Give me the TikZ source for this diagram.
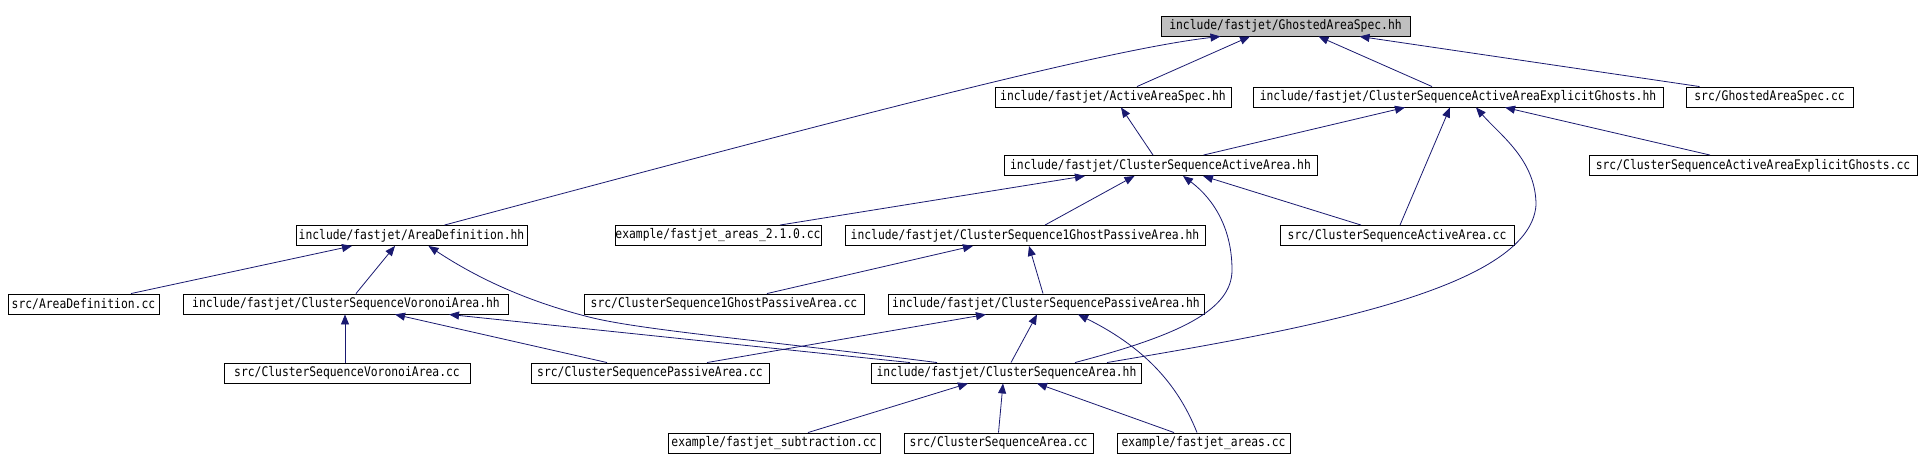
\documentclass[tikz,border=0pt]{standalone}
\usepackage{fontspec}
\usetikzlibrary{arrows.meta}
\newfontfamily\dfont[FakeStretch=0.86]{DejaVu Sans Mono}
\definecolor{edgeblue}{HTML}{191970}
\definecolor{rootgray}{HTML}{BFBFBF}
\begin{document}
\begin{tikzpicture}[x=1pt,y=-1pt,
  fbox/.style={draw=black, line width=0.9pt, minimum height=20pt, inner sep=0pt, fill=white,
    font={\dfont\fontsize{13.2}{14}\selectfont}},
  dep/.style={draw=edgeblue, line width=0.8pt, -{Triangle[length=10pt,width=8pt]}}]
\useasboundingbox (0,0) rectangle (1921,470);
% row 1
\node[fbox, fill=rootgray, minimum width=249pt] (gas) at (1285.5,26) {include/fastjet/GhostedAreaSpec.hh};
% row 2
\node[fbox, minimum width=236pt] (aas) at (1113,97) {include/fastjet/ActiveAreaSpec.hh};
\node[fbox, minimum width=410pt] (eg) at (1458,97) {include/fastjet/ClusterSequenceActiveAreaExplicitGhosts.hh};
\node[fbox, minimum width=167pt] (gascc) at (1769.5,97) {src/GhostedAreaSpec.cc};
% row 3
\node[fbox, minimum width=313pt] (csaa) at (1160.5,165.5) {include/fastjet/ClusterSequenceActiveArea.hh};
\node[fbox, minimum width=328pt] (egcc) at (1753,165.5) {src/ClusterSequenceActiveAreaExplicitGhosts.cc};
% row 4
\node[fbox, minimum width=231pt] (adh) at (411.5,235.5) {include/fastjet/AreaDefinition.hh};
\node[fbox, minimum width=206pt] (ex210) at (718,235.5) {example/fastjet\_areas\_2.1.0.cc};
\node[fbox, minimum width=360pt] (og) at (1025,235.5) {include/fastjet/ClusterSequence1GhostPassiveArea.hh};
\node[fbox, minimum width=234pt] (csaacc) at (1397,235.5) {src/ClusterSequenceActiveArea.cc};
% row 5
\node[fbox, minimum width=151pt] (adcc) at (83.5,304) {src/AreaDefinition.cc};
\node[fbox, minimum width=325pt] (vor) at (346,304) {include/fastjet/ClusterSequenceVoronoiArea.hh};
\node[fbox, minimum width=280pt] (ogcc) at (724,304) {src/ClusterSequence1GhostPassiveArea.cc};
\node[fbox, minimum width=316pt] (pa) at (1046,304) {include/fastjet/ClusterSequencePassiveArea.hh};
% row 6
\node[fbox, minimum width=246pt] (vorcc) at (347,373) {src/ClusterSequenceVoronoiArea.cc};
\node[fbox, minimum width=238pt] (pacc) at (650,373) {src/ClusterSequencePassiveArea.cc};
\node[fbox, minimum width=270pt] (csa) at (1006.5,373) {include/fastjet/ClusterSequenceArea.hh};
% row 7
\node[fbox, minimum width=212pt] (sub) at (774,443) {example/fastjet\_subtraction.cc};
\node[fbox, minimum width=189pt] (csacc) at (998.5,443) {src/ClusterSequenceArea.cc};
\node[fbox, minimum width=173pt] (exa) at (1203.5,443) {example/fastjet\_areas.cc};
% edges
\draw[dep] ([xshift=33pt]adh.north) .. controls (800,130) and (1100,50) .. ([xshift=-65pt]gas.south);
\draw[dep] ([xshift=24pt]aas.north) -- ([xshift=-35.5pt]gas.south);
\draw[dep] ([xshift=-26pt]eg.north) -- ([xshift=33pt]gas.south);
\draw[dep] ([xshift=-70pt]gascc.north) -- ([xshift=74pt]gas.south);
\draw[dep] ([xshift=-7.5pt]csaa.north) -- ([xshift=8pt]aas.south);
\draw[dep] ([xshift=43pt]csaa.north) -- ([xshift=-53pt]eg.south);
\draw[dep] ([xshift=3pt]csaacc.north) -- ([xshift=-8pt]eg.south);
\draw[dep] ([xshift=100.5pt]csa.north) .. controls (1300,330) and (1530,290) .. (1536,205) .. controls (1536,160) and (1500,135) .. ([xshift=18pt]eg.south);
\draw[dep] ([xshift=-43pt]egcc.north) -- ([xshift=47pt]eg.south);
\draw[dep] ([xshift=62pt]ex210.north) -- ([xshift=-75.5pt]csaa.south);
\draw[dep] ([xshift=20pt]og.north) -- ([xshift=-26pt]csaa.south);
\draw[dep] ([xshift=-36pt]csaacc.north) -- ([xshift=42.5pt]csaa.south);
\draw[dep] ([xshift=68.5pt]csa.north) .. controls (1180,335) and (1232,310) .. (1232,270) .. controls (1232,230) and (1215,200) .. ([xshift=22.5pt]csaa.south);
\draw[dep] ([xshift=47.5pt]adcc.north) -- ([xshift=-59.5pt]adh.south);
\draw[dep] ([xshift=10pt]vor.north) -- ([xshift=-16.5pt]adh.south);
\draw[dep] ([xshift=-69.5pt]csa.north) .. controls (760,340) and (640,330) .. (589,317) .. controls (530,302) and (480,280) .. ([xshift=17pt]adh.south);
\draw[dep] ([xshift=-96.5pt]csa.north) -- ([xshift=103pt]vor.south);
\draw[dep] ([xshift=-2pt]vorcc.north) -- ([xshift=-1pt]vor.south);
\draw[dep] ([xshift=-43pt]pacc.north) -- ([xshift=49pt]vor.south);
\draw[dep] ([xshift=43pt]ogcc.north) -- ([xshift=-52pt]og.south);
\draw[dep] ([xshift=-3pt]pa.north) -- ([xshift=4pt]og.south);
\draw[dep] ([xshift=57pt]pacc.north) -- ([xshift=-60pt]pa.south);
\draw[dep] ([xshift=4.5pt]csa.north) -- ([xshift=-9pt]pa.south);
\draw[dep] ([xshift=-6.5pt]exa.north) .. controls (1180,390) and (1150,350) .. ([xshift=32pt]pa.south);
\draw[dep] ([xshift=34pt]sub.north) -- ([xshift=-38.5pt]csa.south);
\draw[dep] ([xshift=0pt]csacc.north) -- ([xshift=-3.5pt]csa.south);
\draw[dep] ([xshift=-29.5pt]exa.north) -- ([xshift=30.5pt]csa.south);
\end{tikzpicture}
\end{document}
